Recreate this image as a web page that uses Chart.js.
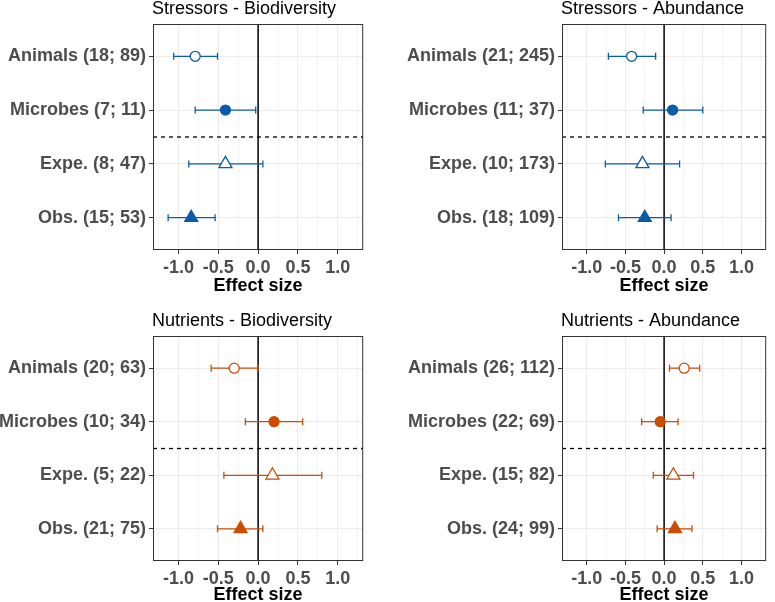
<!DOCTYPE html>
<html>
<head>
<meta charset="utf-8">
<script src="https://cdn.jsdelivr.net/npm/chart.js@4.4.1/dist/chart.umd.min.js"></script>
<style>
  body { margin: 0; width: 775px; height: 602px; overflow: hidden; background: #fff; position: relative; }
  canvas { position: absolute; }
</style>
</head>
<body>
<canvas id="c1" width="372" height="301" style="left:0;top:0"></canvas>
<canvas id="c2" width="386" height="301" style="left:389px;top:0"></canvas>
<canvas id="c3" width="372" height="300" style="left:0;top:312px"></canvas>
<canvas id="c4" width="386" height="300" style="left:389px;top:312px"></canvas>
<script>
// values (effect size, lower and upper CI)
const stressBioLabels = ['Animals (18; 89)', 'Microbes (7; 11)', 'Expe. (8; 47)', 'Obs. (15; 53)'];
const stressBioMean = [-0.79, -0.41, -0.41, -0.84];
const stressBioLow = [-1.06, -0.79, -0.87, -1.13];
const stressBioHigh = [-0.51, -0.03, 0.06, -0.54];

const stressAbuLabels = ['Animals (21; 245)', 'Microbes (11; 37)', 'Expe. (10; 173)', 'Obs. (18; 109)'];
const stressAbuMean = [-0.42, 0.11, -0.28, -0.25];
const stressAbuLow = [-0.72, -0.27, -0.76, -0.59];
const stressAbuHigh = [-0.11, 0.50, 0.20, 0.09];

const nutBioLabels = ['Animals (20; 63)', 'Microbes (10; 34)', 'Expe. (5; 22)', 'Obs. (21; 75)'];
const nutBioMean = [-0.30, 0.20, 0.18, -0.22];
const nutBioLow = [-0.59, -0.16, -0.43, -0.51];
const nutBioHigh = [0.00, 0.56, 0.80, 0.06];

const nutAbuLabels = ['Animals (26; 112)', 'Microbes (22; 69)', 'Expe. (15; 82)', 'Obs. (24; 99)'];
const nutAbuMean = [0.26, -0.05, 0.12, 0.14];
const nutAbuLow = [0.07, -0.29, -0.14, -0.09];
const nutAbuHigh = [0.46, 0.18, 0.38, 0.36];

const xTicks = [-1.25, -1, -0.75, -0.5, -0.25, 0, 0.25, 0.5, 0.75, 1, 1.25];
const xMin = -1.32, xMax = 1.32;
const yMin = 0.4, yMax = 4.6;
const rowPos = [4, 3, 2, 1];
const splitAt = 2.5; // dashed line between taxa and study type

const shapes = ['circle', 'circle', 'triangle', 'triangle'];
const filled = [false, true, false, true];
const blue = '#0b5ca8';
const orange = '#cc4c02';
const fontFam = '"Liberation Sans", Arial, Helvetica, sans-serif';

const isMajor = v => Math.abs(v * 2 - Math.round(v * 2)) < 1e-9;

// panel border + left aligned title
const frameAndTitle = {
  id: 'frameAndTitle',
  afterDraw(chart, args, opts) {
    const ctx = chart.ctx, a = chart.chartArea;
    ctx.save();
    ctx.strokeStyle = '#333333';
    ctx.lineWidth = 1;
    ctx.strokeRect(a.left + 0.5, a.top + 0.5, a.right - a.left - 1, a.bottom - a.top - 1);
    ctx.fillStyle = '#000';
    ctx.font = '18px ' + fontFam;
    ctx.textBaseline = 'alphabetic';
    ctx.textAlign = 'left';
    ctx.fillText(opts.text, a.left - 1, a.top - 10);
    ctx.restore();
  }
};

function makePanel(id, title, labels, mean, low, high, colour, yWidth, rightPad, titlePad) {
  const datasets = [];
  datasets.push({
    data: mean.map((m, i) => ({x: m, y: rowPos[i]})),
    showLine: false,
    pointStyle: shapes,
    pointRadius: shapes.map(s => s === 'triangle' ? 7.5 : 5),
    pointBackgroundColor: filled.map(f => f ? colour : '#ffffff'),
    pointBorderColor: colour,
    pointBorderWidth: 1.3
  });
  for (let i = 0; i < mean.length; i++) {
    datasets.push({
      data: [{x: low[i], y: rowPos[i]}, {x: high[i], y: rowPos[i]}],
      showLine: true,
      borderColor: colour,
      borderWidth: 1.3,
      pointStyle: 'line',
      pointRotation: 90,
      pointRadius: 3.5,
      pointBorderColor: colour,
      pointBorderWidth: 1.3
    });
  }
  datasets.push({
    data: [{x: 0, y: yMin}, {x: 0, y: yMax}],
    showLine: true, borderColor: '#000', borderWidth: 1.5, pointRadius: 0
  });
  datasets.push({
    data: [{x: xMin, y: splitAt}, {x: xMax, y: splitAt}],
    showLine: true, borderColor: '#000', borderWidth: 1.3, borderDash: [4, 4], pointRadius: 0
  });

  return new Chart(document.getElementById(id), {
    type: 'scatter',
    data: {datasets: datasets},
    plugins: [frameAndTitle],
    options: {
      responsive: false,
      animation: false,
      events: [],
      layout: {padding: {top: 24, right: rightPad, left: 0, bottom: 0}},
      plugins: {
        legend: {display: false},
        tooltip: {enabled: false},
        frameAndTitle: {text: title}
      },
      scales: {
        x: {
          type: 'linear',
          min: xMin,
          max: xMax,
          afterBuildTicks: s => { s.ticks = xTicks.map(v => ({value: v})); },
          afterFit: s => { s.height = 51; },
          ticks: {
            callback: v => isMajor(v) ? v.toFixed(1) : '',
            color: '#4d4d4d',
            font: {family: fontFam, size: 18, weight: 'bold'},
            padding: 3,
            maxRotation: 0,
            autoSkip: false
          },
          grid: {
            color: '#ebebeb',
            lineWidth: c => isMajor(c.tick.value) ? 1.1 : 0.55,
            tickColor: c => isMajor(c.tick.value) ? '#333333' : 'rgba(0,0,0,0)',
            tickLength: 4,
            tickWidth: 1
          },
          border: {display: false},
          title: {
            display: true,
            text: 'Effect size',
            color: '#000',
            font: {family: fontFam, size: 18, weight: 'bold'},
            padding: {top: 0, bottom: titlePad}
          }
        },
        y: {
          type: 'linear',
          min: yMin,
          max: yMax,
          afterBuildTicks: s => { s.ticks = rowPos.map(v => ({value: v})); },
          afterFit: s => { s.width = yWidth; },
          ticks: {
            callback: v => labels[rowPos.indexOf(v)],
            color: '#4d4d4d',
            font: {family: fontFam, size: 18, weight: 'bold'},
            padding: 3,
            autoSkip: false
          },
          grid: {
            color: '#ebebeb',
            lineWidth: 1.1,
            tickColor: '#333333',
            tickLength: 4,
            tickWidth: 1
          },
          border: {display: false}
        }
      }
    }
  });
}

makePanel('c1', 'Stressors - Biodiversity', stressBioLabels, stressBioMean, stressBioLow, stressBioHigh, blue, 153, 4, 4.5);
makePanel('c2', 'Stressors - Abundance', stressAbuLabels, stressAbuMean, stressAbuLow, stressAbuHigh, blue, 173, 1, 4.5);
makePanel('c3', 'Nutrients - Biodiversity', nutBioLabels, nutBioMean, nutBioLow, nutBioHigh, orange, 153, 4, 6);
makePanel('c4', 'Nutrients - Abundance', nutAbuLabels, nutAbuMean, nutAbuLow, nutAbuHigh, orange, 173, 1, 6);
</script>
</body>
</html>
